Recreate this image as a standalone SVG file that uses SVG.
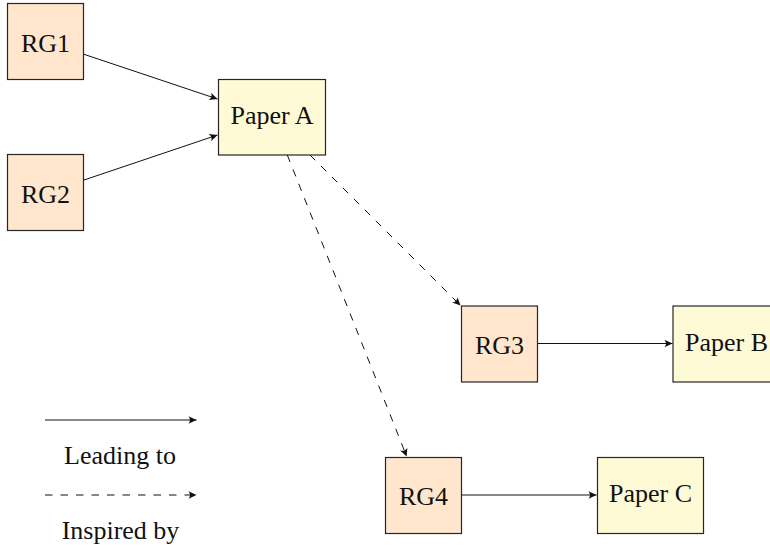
<svg xmlns="http://www.w3.org/2000/svg" width="770" height="548" viewBox="0 0 770 548">
<defs>
<marker id="arr" viewBox="-9 -5 10 10" refX="0" refY="0" markerWidth="10" markerHeight="10" markerUnits="userSpaceOnUse" orient="auto">
<path d="M0,0 L-8,-3.8 Q-5,0 -8,3.8 Z" fill="#111"/>
</marker>
</defs>
<style>
.rg{fill:#FFE6CC;stroke:#262626;stroke-width:1.2}
.pa{fill:#FFFAD6;stroke:#262626;stroke-width:1.2}
text{font-family:"Liberation Serif","Times New Roman",serif;font-size:26px;fill:#111;text-anchor:middle}
.e{fill:none;stroke:#111;stroke-width:1;marker-end:url(#arr)}
.d{stroke-dasharray:7.5,8}
</style>
<rect width="770" height="548" fill="#fff"/>
<g id="connectors">
<line class="e" x1="84" y1="54.3" x2="217.5" y2="99"/>
<line class="e" x1="84" y1="180" x2="217.5" y2="135"/>
<line class="e d" x1="310" y1="155" x2="460.5" y2="305.5"/>
<line class="e d" x1="287.3" y1="155" x2="406.7" y2="456.5"/>
<line class="e" x1="538" y1="343.5" x2="672.5" y2="343.5"/>
<line class="e" x1="462" y1="495" x2="596.5" y2="495"/>
</g>
<g id="RG1"><rect class="rg" x="7.5" y="3.5" width="76" height="76"/><text x="45.5" y="51.5">RG1</text></g>
<g id="RG2"><rect class="rg" x="7.5" y="154.5" width="76" height="76"/><text x="45.5" y="202.5">RG2</text></g>
<g id="PaperA"><rect class="pa" x="218.5" y="79.5" width="107" height="75.5"/><text x="272" y="124">Paper A</text></g>
<g id="RG3"><rect class="rg" x="461.5" y="306" width="76" height="76"/><text x="499.5" y="354">RG3</text></g>
<g id="PaperB"><rect class="pa" x="673" y="306" width="107" height="76"/><text x="726.5" y="350.7">Paper B</text></g>
<g id="RG4"><rect class="rg" x="385.5" y="457.5" width="76" height="76"/><text x="423.5" y="505">RG4</text></g>
<g id="PaperC"><rect class="pa" x="597.5" y="457.5" width="106" height="76"/><text x="650.5" y="501.7">Paper C</text></g>
<g id="legend">
<line class="e" x1="45" y1="420" x2="196.5" y2="420"/>
<text x="120" y="464">Leading to</text>
<line class="e d" x1="45" y1="495" x2="196.5" y2="495"/>
<text x="120.5" y="539">Inspired by</text>
</g>
</svg>
